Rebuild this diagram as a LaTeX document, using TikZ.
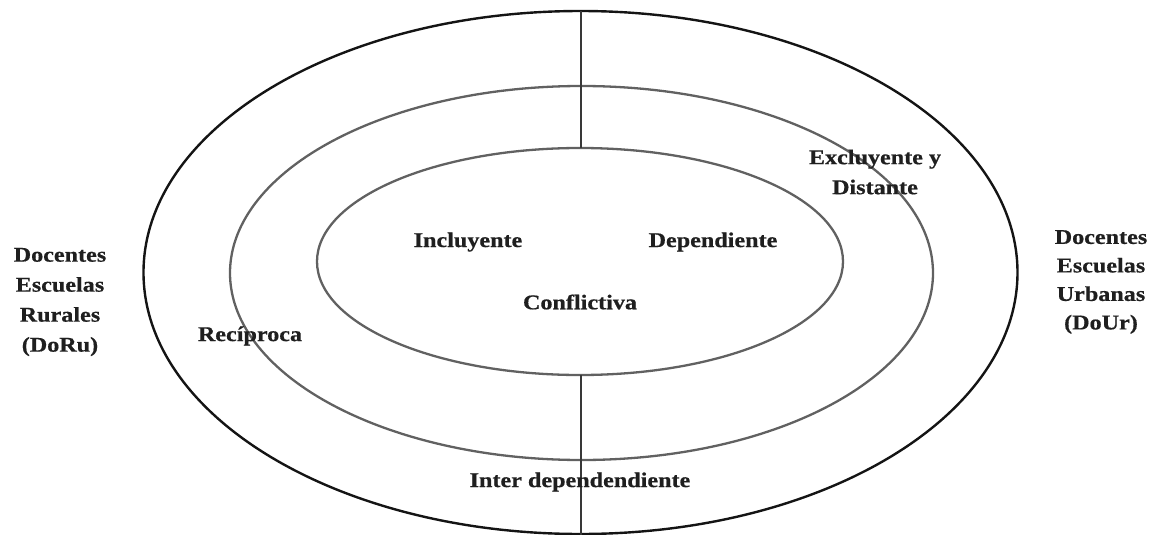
\documentclass[tikz,border=0pt]{standalone}
\usepackage{fontspec}
\setmainfont{Liberation Serif}[FakeStretch=1.15,FakeBold=0.6]
\begin{document}
\begin{tikzpicture}[x=1pt,y=-1pt,
  outerring/.style={draw=black!92,line width=2.4pt},
  ring/.style={draw=black!62,line width=2.3pt},
  divider/.style={draw=black!78,line width=1.6pt},
  lbl/.style={font=\bfseries\fontsize{21}{30}\selectfont,text=black!88,align=center,inner sep=0pt}]
\useasboundingbox (0,0) rectangle (1157,535);
% rings
\draw[outerring] (580.5,272.5) ellipse [x radius=437, y radius=261.5];
\draw[ring] (581.5,273) ellipse [x radius=351.5, y radius=187];
\draw[ring] (580,261.5) ellipse [x radius=263, y radius=113.5];
% divider
\coordinate (ot) at (580.7,11);
\coordinate (it) at (580.7,148);
\coordinate (ib) at (580.7,375);
\coordinate (bb) at (580.7,535);
\draw[divider] (ot) -- (it);
\draw[divider] (ib) -- (bb);
% labels
\node[lbl] (doru) at (60,302) {Docentes\\Escuelas\\Rurales\\(DoRu)};
\node[lbl,font=\bfseries\fontsize{21}{28.5}\selectfont] (dour) at (1101,282) {Docentes\\Escuelas\\Urbanas\\(DoUr)};
\node[lbl] (inc) at (468,242) {Incluyente};
\node[lbl] (dep) at (713,242) {Dependiente};
\node[lbl] (con) at (580,302) {Conflictiva};
\node[lbl] (rec) at (250,336) {Recíproca};
\node[lbl] (exc) at (875,172) {Excluyente y\\Distante};
\node[lbl] (int) at (580,482) {Inter dependendiente};
\end{tikzpicture}
\end{document}
